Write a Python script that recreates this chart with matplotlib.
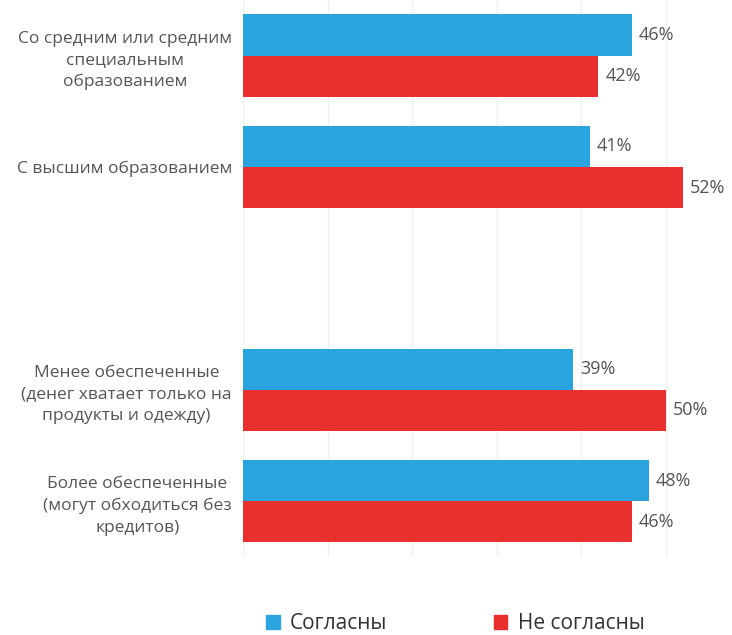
import matplotlib.pyplot as plt
from matplotlib.patches import Patch
import numpy as np

# data
categories = ['Со средним или средним\nспециальным\nобразованием',
              'С высшим образованием',
              '',
              'Менее обеспеченные\n(денег хватает только на\nпродукты и одежду)',
              'Более обеспеченные\n(могут обходиться без\nкредитов)']
agree = [46, 41, None, 39, 48]
disagree = [42, 52, None, 50, 46]
series_names = ['Согласны', 'Не согласны']

blue = '#2AA4DE'
red = '#E8302E'
txt = '#555555'

plt.rcParams['font.family'] = ['Open Sans', 'DejaVu Sans']

fig = plt.figure(figsize=(7.32, 6.35), dpi=100)
ax = fig.add_axes([0.332, 0.123, 0.66, 0.877])

y = np.arange(len(categories))
h = 0.37
for i in range(len(categories)):
    if agree[i] is None:
        continue
    ax.barh(y[i] - h / 2, agree[i], height=h, color=blue, zorder=2)
    ax.barh(y[i] + h / 2, disagree[i], height=h, color=red, zorder=2)
    ax.text(agree[i] + 0.8, y[i] - h / 2, f'{agree[i]}%', va='center', ha='left',
            fontsize=13, color=txt)
    ax.text(disagree[i] + 0.8, y[i] + h / 2, f'{disagree[i]}%', va='center', ha='left',
            fontsize=13, color=txt)

ax.set_xlim(0, 57.1)
ax.set_ylim(len(categories) - 0.5, -0.5)
ax.set_xticks(np.arange(0, 60, 10))
ax.xaxis.grid(True, color='#f0f0f0', linewidth=1, zorder=0)
ax.tick_params(axis='x', length=0, labelbottom=False)
ax.tick_params(axis='y', length=0, pad=8)
ax.set_yticks(y)
ax.set_yticklabels(categories, fontsize=12.5, color=txt, multialignment='center',
                   linespacing=1.45)
for s in ax.spines.values():
    s.set_visible(False)

handles = [Patch(color=blue), Patch(color=red)]
fig.legend(handles, series_names, loc='center', bbox_to_anchor=(0.622, 0.018),
           ncol=2, frameon=False, fontsize=15, handlelength=0.65, handleheight=0.65,
           handletextpad=0.5, columnspacing=5.1, labelcolor='#333333')

plt.savefig('out.png', dpi=100)
